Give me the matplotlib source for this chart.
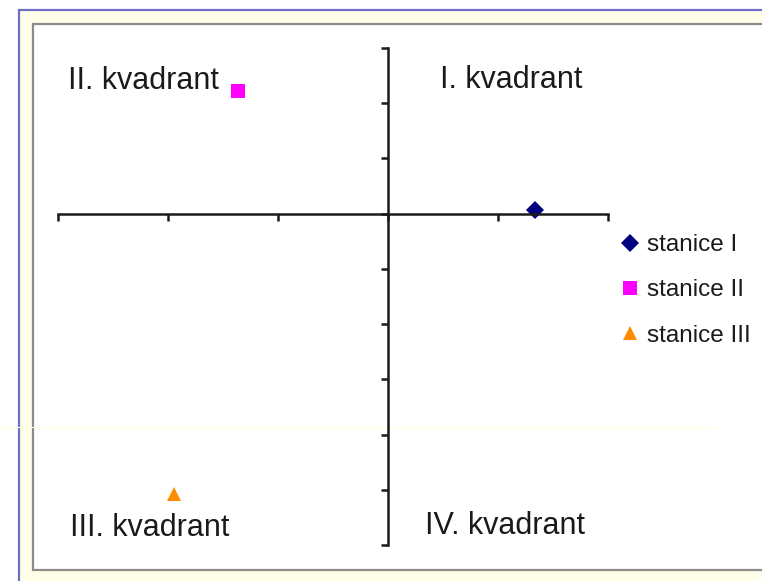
import matplotlib
matplotlib.use("Agg")
import matplotlib.pyplot as plt
from matplotlib.patches import Rectangle
from matplotlib.lines import Line2D

W, H = 762, 581

series_names = ["stanice I", "stanice II", "stanice III"]
series_x = [1.34, -1.36, -1.95]
series_y = [0.07, 2.22, -5.07]
series_markers = ["D", "s", "^"]
series_colors = ["#000080", "#FF00FF", "#FF8C00"]
quadrant_labels = ["I. kvadrant", "II. kvadrant", "III. kvadrant", "IV. kvadrant"]
quadrant_pos = [(0.47, 2.28), (-2.91, 2.26), (-2.89, -5.83), (0.34, -5.80)]
x_ticks = [-3, -2, -1, 0, 1, 2]
y_ticks = [-6, -5, -4, -3, -2, -1, 0, 1, 2, 3]

plt.rcParams['font.family'] = ['Liberation Sans', 'DejaVu Sans']

fig = plt.figure(figsize=(W / 100, H / 100), dpi=100)
fig.patch.set_facecolor("white")

def fx(x):
    return x / W

def fy(y):
    return 1 - y / H

# outer cream frame with blue border
fig.add_artist(Rectangle((fx(19), fy(600)), fx(800 - 19), fy(10) - fy(600),
                         transform=fig.transFigure, facecolor="#FFFFE8",
                         edgecolor="#6E6EC8", linewidth=1.6, zorder=-3))
# inner white plot area with gray border
fig.add_artist(Rectangle((fx(33), fy(570)), fx(800 - 33), fy(24) - fy(570),
                         transform=fig.transFigure, facecolor="white",
                         edgecolor="#8C8C8C", linewidth=1.6, zorder=-2))
# faint yellow line artifact
fig.add_artist(Line2D([0, fx(715)], [fy(427), fy(427)], transform=fig.transFigure,
                      color="#FFFFD8", linewidth=0.8, zorder=-1))

left, right, top, bottom = 58, 608, 48, 545
ax = fig.add_axes([fx(left), fy(bottom), fx(right - left), fy(top) - fy(bottom)])
ax.set_facecolor("none")
ax.set_xlim(x_ticks[0], x_ticks[-1])
ax.set_ylim(y_ticks[0], y_ticks[-1])
for s in ["top", "right"]:
    ax.spines[s].set_visible(False)
ax.spines["left"].set_position(("data", 0))
ax.spines["bottom"].set_position(("data", 0))
for s in ["left", "bottom"]:
    ax.spines[s].set_linewidth(1.8)
    ax.spines[s].set_color("#1a1a1a")
ax.set_xticks(x_ticks)
ax.set_yticks(y_ticks)
ax.set_xticklabels([])
ax.set_yticklabels([])
ax.tick_params(axis="both", direction="out", length=5, width=1.8, color="#1a1a1a")

for name, x, y, m, c in zip(series_names, series_x, series_y, series_markers, series_colors):
    ms = 9 if m == "D" else 10
    ax.plot([x], [y], linestyle="none", marker=m, color=c, markersize=ms,
            markeredgewidth=0, label=name, clip_on=False)

for lab, (x, y) in zip(quadrant_labels, quadrant_pos):
    ax.text(x, y, lab, fontsize=22, color="#1a1a1a", ha="left", va="baseline")

leg = ax.legend(loc="upper left", bbox_to_anchor=(fx(620), fy(234)),
                bbox_transform=fig.transFigure, frameon=False, fontsize=17.5,
                handlelength=0.8, handletextpad=0.3, labelspacing=0.96,
                borderpad=0, borderaxespad=0)
for t in leg.get_texts():
    t.set_color("#1a1a1a")

fig.savefig("out.png", dpi=100)
